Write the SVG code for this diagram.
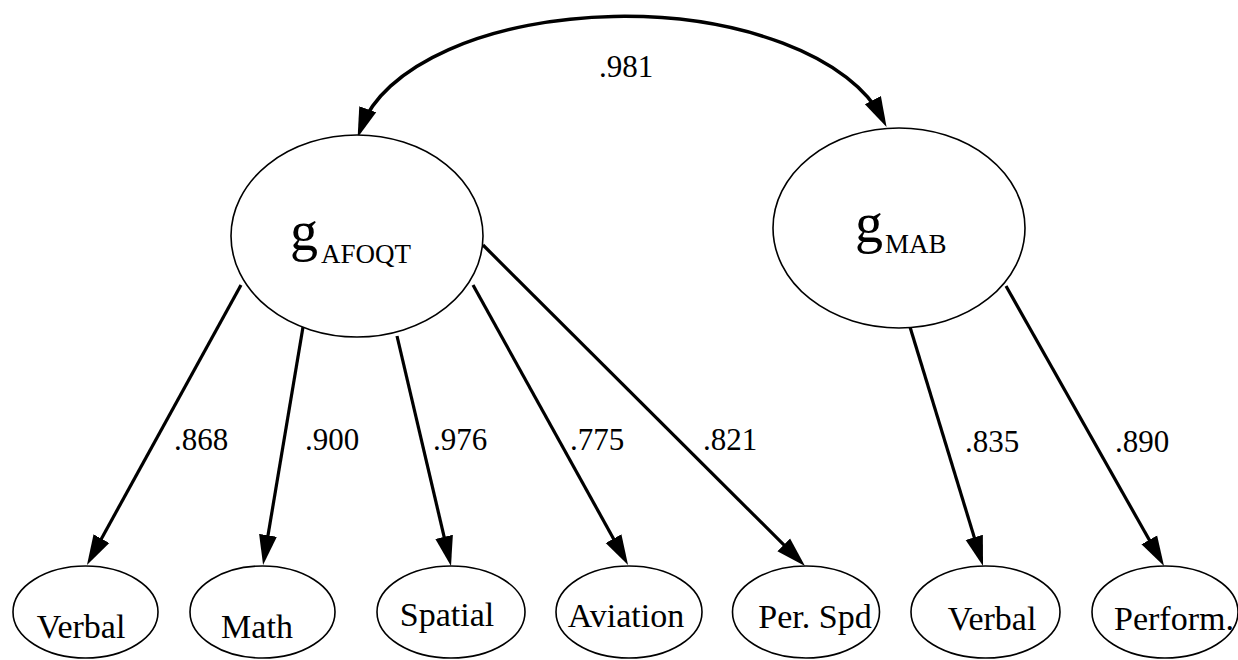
<svg xmlns="http://www.w3.org/2000/svg" width="1238" height="660" viewBox="0 0 1238 660" font-family="'Liberation Serif', 'Times New Roman', 'DejaVu Serif', serif">
<style>
.node{fill:#fff;stroke:#000;stroke-width:1.6}
.conn{fill:none;stroke:#000;stroke-width:3.2}
text{font-family:'Liberation Serif','Times New Roman','DejaVu Serif',serif;fill:#000}
.lbl{font-size:31px}
.name{font-size:34px;text-anchor:middle}
.g{font-size:56px}
.sub{font-size:27px}
</style>
<defs>
<marker id="arr" markerUnits="userSpaceOnUse" markerWidth="34" markerHeight="22" viewBox="0 0 34 22" refX="20" refY="11" orient="auto-start-reverse">
<path d="M0,2 L30,11 L0,20 z" fill="#000"/>
</marker>
</defs>
<rect width="1238" height="660" fill="#fff"/>
<g id="connectors">
<path class="conn" style="stroke-width:3.5" d="M361,128 A267,136 0 0 1 882,118" marker-start="url(#arr)" marker-end="url(#arr)"/>
<line class="conn" x1="241" y1="285" x2="91.8" y2="556.2" marker-end="url(#arr)"/>
<line class="conn" x1="303" y1="327" x2="264.7" y2="555.1" marker-end="url(#arr)"/>
<line class="conn" x1="397" y1="336" x2="448.7" y2="556.3" marker-end="url(#arr)"/>
<line class="conn" x1="473" y1="285" x2="623.2" y2="556.2" marker-end="url(#arr)"/>
<line class="conn" x1="483" y1="245" x2="797.9" y2="558.9" marker-end="url(#arr)"/>
<line class="conn" x1="910" y1="327" x2="980.1" y2="556.4" marker-end="url(#arr)"/>
<line class="conn" x1="1006" y1="286" x2="1159.1" y2="557.3" marker-end="url(#arr)"/>
<text class="lbl" x="599" y="77">.981</text>
<text class="lbl" x="174" y="450">.868</text>
<text class="lbl" x="305" y="450">.900</text>
<text class="lbl" x="433" y="450">.976</text>
<text class="lbl" x="570" y="450">.775</text>
<text class="lbl" x="703" y="450">.821</text>
<text class="lbl" x="965" y="452">.835</text>
<text class="lbl" x="1115" y="452">.890</text>
</g>
<g id="gAFOQT">
<ellipse class="node" cx="357" cy="236" rx="126" ry="101"/>
<text class="g" x="290" y="250">g<tspan class="sub" dx="3" dy="13">AFOQT</tspan></text>
</g>
<g id="gMAB">
<ellipse class="node" cx="899" cy="228" rx="126" ry="100"/>
<text class="g" x="855" y="242">g<tspan class="sub" dx="2" dy="11">MAB</tspan></text>
</g>
<g id="verbal1">
<ellipse class="node" cx="85.5" cy="612" rx="72.5" ry="46"/>
<text class="name" x="81" y="638">Verbal</text>
</g>
<g id="math">
<ellipse class="node" cx="262.5" cy="612" rx="72.5" ry="46"/>
<text class="name" x="257" y="638">Math</text>
</g>
<g id="spatial">
<ellipse class="node" cx="451" cy="612" rx="74" ry="46"/>
<text class="name" x="447" y="626">Spatial</text>
</g>
<g id="aviation">
<ellipse class="node" cx="629" cy="612" rx="73" ry="46"/>
<text class="name" x="626" y="627">Aviation</text>
</g>
<g id="perspd">
<ellipse class="node" cx="806" cy="612" rx="73.5" ry="46"/>
<text class="name" x="815" y="628">Per. Spd</text>
</g>
<g id="verbal2">
<ellipse class="node" cx="985.5" cy="612" rx="74.5" ry="46"/>
<text class="name" x="992" y="630">Verbal</text>
</g>
<g id="perform">
<ellipse class="node" cx="1165" cy="612" rx="73" ry="46"/>
<text class="name" x="1174" y="630">Perform.</text>
</g>
</svg>
